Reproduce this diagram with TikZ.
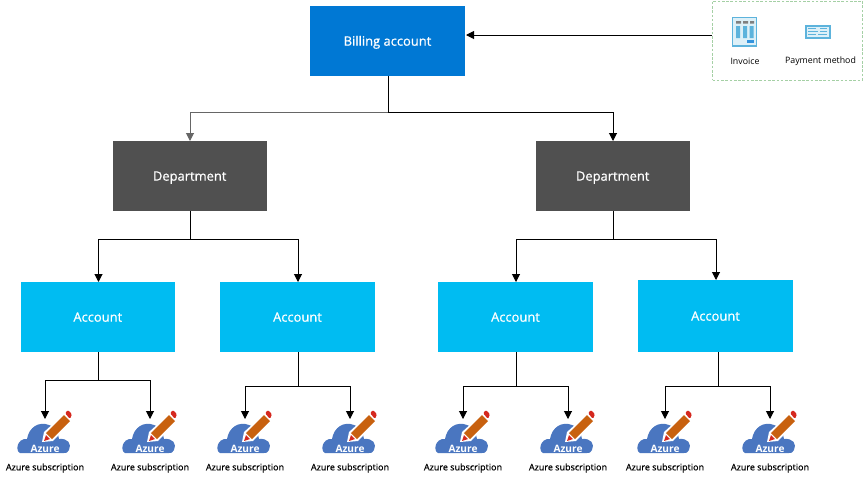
\documentclass[tikz,border=0pt]{standalone}
\usepackage{fontspec}
\setmainfont{Open Sans}
\newfontfamily\semifont[FakeBold=0.6]{Open Sans}
\usetikzlibrary{arrows.meta,calc}
\definecolor{billblue}{HTML}{0078D4}
\definecolor{deptgrey}{HTML}{505050}
\definecolor{acctblue}{HTML}{00BCF2}
\definecolor{cloudblue}{HTML}{4A76C0}
\definecolor{pencilor}{HTML}{C8610F}
\definecolor{pencilred}{HTML}{D5281E}
\definecolor{iconblue}{HTML}{5DB3DC}
\definecolor{iconpale}{HTML}{DDF0F8}
\definecolor{grpgreen}{HTML}{A5D0A5}
\newcommand{\boxlabel}[1]{\raisebox{-3.5pt}[0pt][0pt]{#1}}
\tikzset{
  x=0.75pt,y=-0.75pt,
  boxbase/.style={minimum width=116.25pt,minimum height=52.5pt,inner sep=0pt,text=white,font=\fontsize{9.7pt}{11pt}\semifont},
  billbox/.style={boxbase,fill=billblue},
  deptbox/.style={boxbase,minimum width=115.5pt,fill=deptgrey},
  acctbox/.style={boxbase,fill=acctblue},
  conn/.style={draw=black,line width=0.75pt,-{Triangle[length=6pt,width=6pt]}},
  connline/.style={draw=black,line width=0.75pt},
  subtext/.style={inner sep=0pt,font=\fontsize{6.75pt}{8pt}\semifont},
  grptext/.style={inner sep=0pt,font=\fontsize{6.6pt}{8pt}\selectfont},
  pics/subicon/.style={code={
    \fill[cloudblue] (-26,36) .. controls (-31,34) and (-29,21) .. (-19,22)
      .. controls (-17,10) and (-7,4) .. (3,8)
      .. controls (9,9) and (12,15) .. (13,22)
      .. controls (22,21) and (26,27) .. (23,33)
      .. controls (22,36) and (20,36) .. (18,36) -- cycle;
    \node[inner sep=0pt,text=white,font=\fontsize{7.6pt}{8pt}\selectfont\bfseries] at (-1,32) {Azure};
    \fill[white] (-4,25) -- (-2,15) -- (19,-4) -- (27,3) -- (7,24) -- cycle;
    \fill[pencilor] (0,16) -- (18,-2) -- (24,4) -- (6,22) -- cycle;
    \fill[pencilred] (-2,24) -- (0,18) -- (4,22) -- cycle;
    \fill[pencilred,rounded corners=1pt] (19,-4) -- (22,-7) -- (26,-3) -- (24,2) -- cycle;
  }}
}
\begin{document}
\begin{tikzpicture}
\useasboundingbox (0,0) rectangle (864,480);
\node[billbox] (bill) at (387.5,41) {\boxlabel{Billing account}};
\node[deptbox] (deptL) at (189.7,176) {\boxlabel{Department}};
\node[deptbox] (deptR) at (612.7,176) {\boxlabel{Department}};
\node[acctbox,minimum width=115.5pt] (a1) at (97.8,317) {\boxlabel{Account}};
\node[acctbox] (a2) at (297.5,317) {\boxlabel{Account}};
\node[acctbox] (a3) at (515.5,317) {\boxlabel{Account}};
\node[acctbox,minimum height=54pt] (a4) at (715.5,316) {\boxlabel{Account}};
% group
\node[draw=grpgreen,dashed,dash pattern=on 2pt off 1.2pt,line width=0.6pt,minimum width=112.5pt,minimum height=59.25pt,inner sep=0pt] (grp) at (787.5,40.5) {};
\node[grptext] (inv) at (745,61) {Invoice};
\node[grptext] (pay) at (820.5,61) {Payment method};
% invoice icon
\fill[iconpale] (732,17) rectangle (757,46);
\draw[iconblue,line width=0.9pt] (732.5,17.5) rectangle (756.5,46);
\fill[gray] (736,21) rectangle (741,23.5) (743,21) rectangle (748,23.5) (750,21) rectangle (754,23.5);
\fill[iconblue] (736,26) rectangle (740,38) (743,26) rectangle (747,38) (749.5,26) rectangle (753.5,38);
\fill[billblue!80] (746.5,40) rectangle (753.5,43);
% payment icon
\fill[iconpale] (806,25) rectangle (830,38);
\draw[iconblue,line width=1.5pt] (806,25.5) rectangle (829.5,38);
\draw[iconblue,line width=0.7pt] (808,28) -- (816,28) (820,28) -- (827,28) (808,31) -- (818,31) (820,31) -- (827,31) (808,34.5) -- (816,34.5) (818,34.5) -- (827,34.5);
% subscriptions
\foreach \n/\x in {s1/45,s2/150,s3/245,s4/350,s5/463,s6/568,s7/665,s8/770}{
  \coordinate (\n) at (\x,419);
  \pic at (\x+1,417) {subicon};
  \node[subtext] (\n t) at (\x,468) {Azure subscription};
}
% connectors
\coordinate (billM) at (388,112);
\draw[connline] (bill.south -| billM) -- (billM);
\draw[draw=black!60,line width=0.75pt,-{Triangle[length=6pt,width=6pt]}] (billM) -| (190,141);
\draw[conn] (billM) -| (613,141);
\coordinate (billIn) at (466,35);
\draw[conn] (grp.west |- billIn) -- (billIn);
\coordinate (dl) at (190.5,211);
\coordinate (dr) at (613.5,211);
\coordinate (t1) at (98.5,282);
\coordinate (t2) at (298,282);
\coordinate (t3) at (516,282);
\coordinate (t4) at (716,280);
\foreach \p/\ya/\ca/\cb in {dl/239/t1/t2,dr/239/t3/t4}{
  \draw[conn] (\p) -- (\p |- 0,\ya) -| (\ca);
  \draw[conn] (\p) -- (\p |- 0,\ya) -| (\cb);
}
\coordinate (c1) at (98.5,352);
\coordinate (c2) at (298,352);
\coordinate (c3) at (516.5,352);
\coordinate (c4) at (718.5,352);
\foreach \p/\ya/\ca/\cb in {c1/380/s1/s2,c2/386/s3/s4,c3/386/s5/s6,c4/386/s7/s8}{
  \draw[conn] (\p) -- (\p |- 0,\ya) -| (\ca);
  \draw[conn] (\p) -- (\p |- 0,\ya) -| (\cb);
}
\end{tikzpicture}
\end{document}
